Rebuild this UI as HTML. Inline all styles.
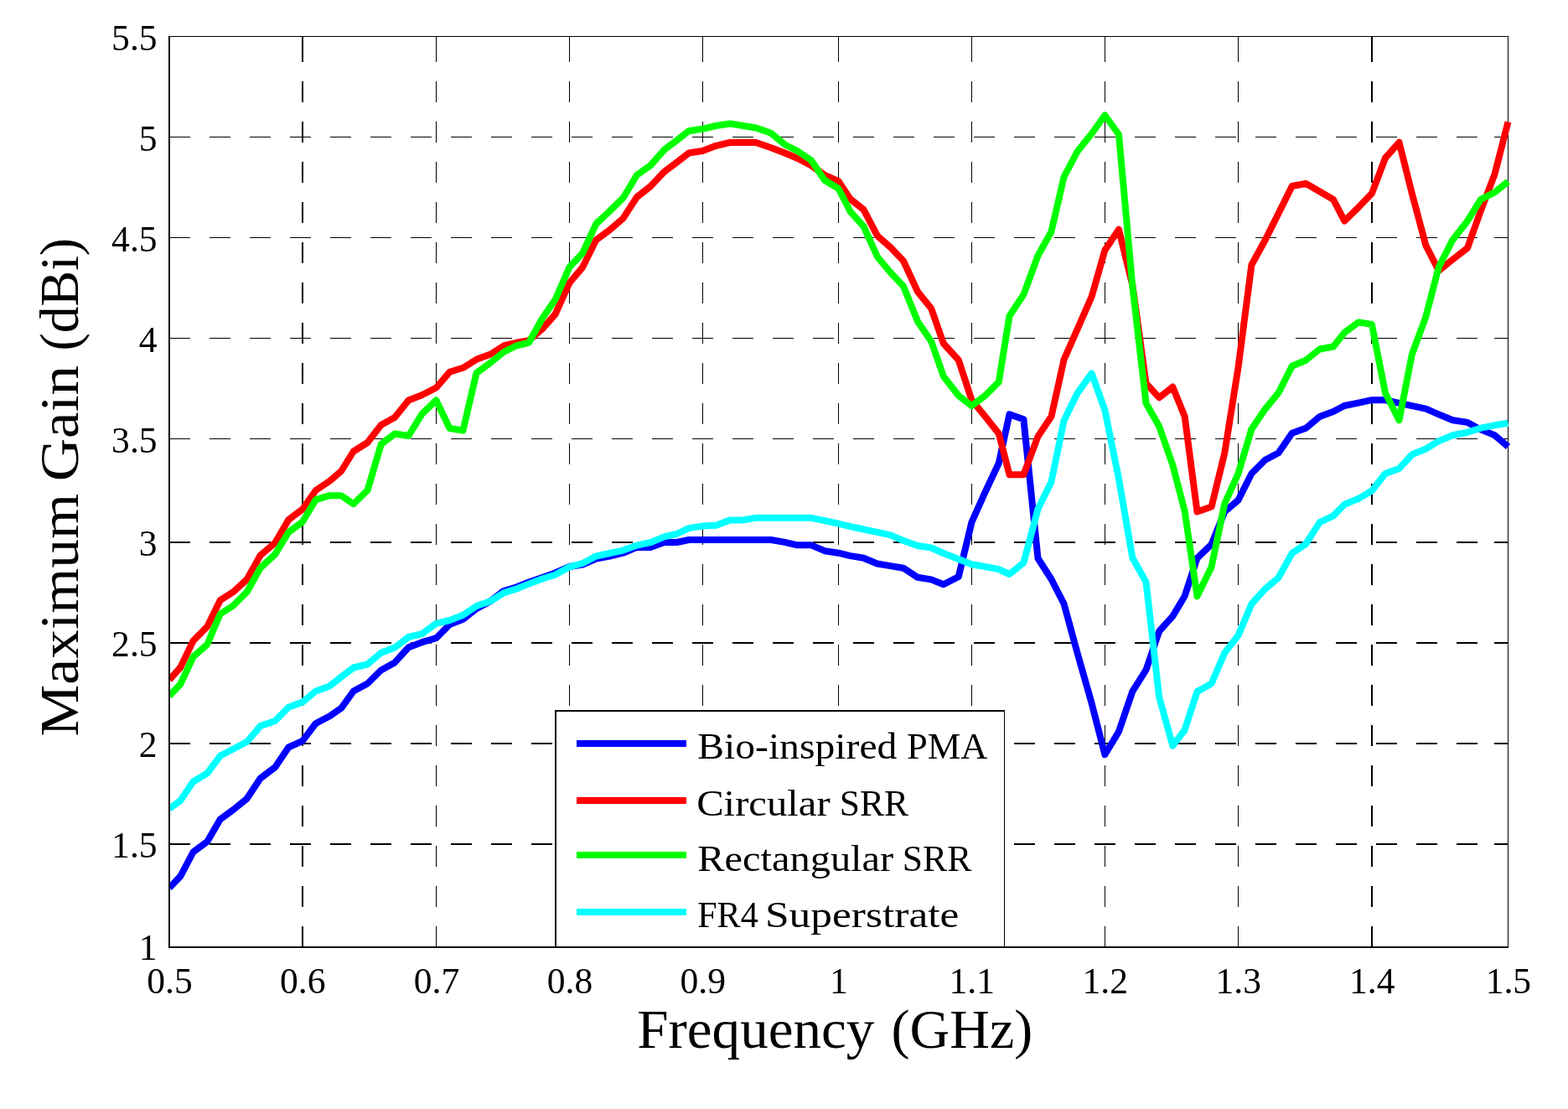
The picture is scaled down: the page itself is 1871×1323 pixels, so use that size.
<!DOCTYPE html>
<html lang="en">
<head>
<meta charset="utf-8">
<title>Maximum Gain vs Frequency</title>
<style>
html,body{margin:0;padding:0;background:#fff;}
body{width:1871px;height:1323px;overflow:hidden;}
svg{display:block;}
text{font-family:"Liberation Serif", serif;fill:#000;}
.k{fill:#000;shape-rendering:crispEdges;}
.g{stroke:#000;fill:none;shape-rendering:crispEdges;}
.c{fill:none;stroke-width:8;stroke-linejoin:round;stroke-linecap:butt;}
.t{font-size:43.6px;}
.lg{font-size:43.8px;}
.al{font-size:65px;}
</style>
</head>
<body>
<svg width="1871" height="1323" viewBox="0 0 1871 1323">
<defs><clipPath id="pa"><rect x="203" y="33" width="1605" height="1108"/></clipPath></defs>
<rect x="0" y="0" width="1871" height="1323" fill="#fff"/>
<g class="g">
<line x1="202" y1="163.5" x2="1800" y2="163.5" stroke-width="1" stroke-dasharray="25 23"/>
<line x1="1783" y1="163.5" x2="1800" y2="163.5" stroke-width="1"/>
<line x1="202" y1="283.5" x2="1800" y2="283.5" stroke-width="1" stroke-dasharray="25 23"/>
<line x1="1783" y1="283.5" x2="1800" y2="283.5" stroke-width="1"/>
<line x1="202" y1="403.5" x2="1800" y2="403.5" stroke-width="1" stroke-dasharray="25 23"/>
<line x1="1783" y1="403.5" x2="1800" y2="403.5" stroke-width="1"/>
<line x1="202" y1="523.5" x2="1800" y2="523.5" stroke-width="1" stroke-dasharray="25 23"/>
<line x1="1783" y1="523.5" x2="1800" y2="523.5" stroke-width="1"/>
<line x1="202" y1="647.0" x2="1800" y2="647.0" stroke-width="2" stroke-dasharray="25 23"/>
<line x1="1783" y1="647.0" x2="1800" y2="647.0" stroke-width="2"/>
<line x1="202" y1="767.0" x2="1800" y2="767.0" stroke-width="2" stroke-dasharray="25 23"/>
<line x1="1783" y1="767.0" x2="1800" y2="767.0" stroke-width="2"/>
<line x1="202" y1="887.0" x2="1800" y2="887.0" stroke-width="2" stroke-dasharray="25 23"/>
<line x1="1783" y1="887.0" x2="1800" y2="887.0" stroke-width="2"/>
<line x1="202" y1="1007.0" x2="1800" y2="1007.0" stroke-width="2" stroke-dasharray="25 23"/>
<line x1="1783" y1="1007.0" x2="1800" y2="1007.0" stroke-width="2"/>
<line x1="361.0" y1="1130" x2="361.0" y2="43" stroke-width="2" stroke-dasharray="25 23"/>
<line x1="361.0" y1="43" x2="361.0" y2="59" stroke-width="2"/>
<line x1="520.5" y1="1130" x2="520.5" y2="43" stroke-width="1" stroke-dasharray="25 23"/>
<line x1="520.5" y1="43" x2="520.5" y2="59" stroke-width="1"/>
<line x1="679.5" y1="1130" x2="679.5" y2="43" stroke-width="1" stroke-dasharray="25 23"/>
<line x1="679.5" y1="43" x2="679.5" y2="59" stroke-width="1"/>
<line x1="838.5" y1="1130" x2="838.5" y2="43" stroke-width="1" stroke-dasharray="25 23"/>
<line x1="838.5" y1="43" x2="838.5" y2="59" stroke-width="1"/>
<line x1="1000.5" y1="1130" x2="1000.5" y2="43" stroke-width="1" stroke-dasharray="25 23"/>
<line x1="1000.5" y1="43" x2="1000.5" y2="59" stroke-width="1"/>
<line x1="1159.5" y1="1130" x2="1159.5" y2="43" stroke-width="1" stroke-dasharray="25 23"/>
<line x1="1159.5" y1="43" x2="1159.5" y2="59" stroke-width="1"/>
<line x1="1318.5" y1="1130" x2="1318.5" y2="43" stroke-width="1" stroke-dasharray="25 23"/>
<line x1="1318.5" y1="43" x2="1318.5" y2="59" stroke-width="1"/>
<line x1="1477.5" y1="1130" x2="1477.5" y2="43" stroke-width="1" stroke-dasharray="25 23"/>
<line x1="1477.5" y1="43" x2="1477.5" y2="59" stroke-width="1"/>
<line x1="1637.0" y1="1130" x2="1637.0" y2="43" stroke-width="2" stroke-dasharray="25 23"/>
<line x1="1637.0" y1="43" x2="1637.0" y2="59" stroke-width="2"/>
</g>
<rect class="k" x="1799" y="43" width="1" height="1088"/>
<g clip-path="url(#pa)">
<path class="c" stroke="#0000ff" d="M202.0 1059.2 L215.3 1045.4 L230.5 1016.5 L247.3 1004.0 L262.7 977.5 L278.3 966.0 L294.6 952.8 L310.7 928.5 L328.3 915.3 L344.3 891.5 L361.0 883.9 L376.8 863.0 L393.5 854.3 L407.2 844.8 L421.8 824.5 L438.5 815.5 L454.7 799.5 L471.0 790.4 L487.5 772.3 L503.5 766.2 L520.5 761.2 L536.5 745.0 L552.5 738.8 L568.5 726.2 L585.5 717.0 L601.0 705.0 L616.0 700.5 L631.0 694.5 L647.0 689.0 L662.5 683.5 L679.4 676.0 L695.2 673.5 L711.3 666.5 L727.3 663.5 L743.5 659.7 L760.0 652.9 L776.0 652.9 L792.5 647.0 L807.5 647.0 L822.0 644.0 L838.3 644.0 L854.6 644.0 L871.0 644.0 L886.6 644.0 L902.0 644.0 L920.0 644.0 L936.5 646.9 L951.3 650.3 L968.0 650.3 L984.0 657.2 L1000.5 659.7 L1014.7 663.1 L1030.5 665.7 L1046.8 672.5 L1062.5 675.1 L1078.0 677.7 L1095.0 688.8 L1111.2 691.4 L1125.8 697.3 L1143.8 688.0 L1159.4 623.2 L1175.5 587.2 L1191.8 552.5 L1204.5 494.2 L1221.4 500.2 L1238.5 666.0 L1254.5 691.0 L1269.5 720.3 L1285.7 779.5 L1302.6 838.9 L1318.4 900.2 L1335.0 872.7 L1351.3 824.9 L1367.5 799.2 L1383.2 753.0 L1399.3 735.1 L1413.6 711.2 L1428.5 665.8 L1445.6 649.3 L1461.3 610.5 L1477.5 596.6 L1493.4 565.0 L1509.6 548.7 L1525.6 540.2 L1541.7 516.8 L1558.3 510.7 L1574.7 497.0 L1591.0 491.0 L1604.3 484.0 L1621.0 480.6 L1636.9 477.2 L1653.0 477.3 L1669.5 480.8 L1684.9 484.2 L1701.3 487.6 L1716.8 494.4 L1733.5 501.3 L1751.0 503.9 L1766.8 512.4 L1783.5 519.2 L1799.5 532.9"/>
<path class="c" stroke="#ff0000" d="M202.0 811.0 L215.3 796.3 L230.5 764.5 L247.3 747.5 L262.7 716.2 L278.3 706.2 L294.6 691.2 L310.7 662.5 L328.3 647.5 L344.3 620.0 L361.0 607.5 L376.8 585.0 L393.5 573.8 L407.2 562.0 L421.8 538.5 L438.5 528.0 L454.7 507.0 L471.0 498.0 L487.5 477.5 L503.5 471.2 L520.5 462.5 L536.5 443.8 L552.5 438.8 L568.5 428.8 L585.5 422.5 L601.0 412.5 L616.0 408.8 L631.0 406.2 L647.0 392.5 L662.5 375.0 L679.4 337.5 L695.2 318.8 L711.3 286.2 L727.3 274.5 L743.5 260.5 L760.0 235.0 L776.0 222.5 L792.5 205.0 L807.5 193.8 L822.0 182.5 L838.3 180.0 L854.6 173.8 L871.0 170.0 L886.6 170.0 L902.0 170.0 L920.0 176.2 L936.5 182.5 L951.3 188.8 L968.0 197.5 L984.0 208.8 L1000.5 216.2 L1014.7 237.5 L1030.5 250.0 L1046.8 281.2 L1062.5 295.0 L1078.0 311.2 L1095.0 348.0 L1111.2 368.0 L1125.8 409.7 L1143.8 429.5 L1159.4 477.1 L1175.5 496.8 L1191.8 517.3 L1204.5 566.3 L1221.4 566.3 L1238.5 520.7 L1254.5 496.8 L1269.5 429.2 L1285.7 392.4 L1302.6 353.9 L1318.4 298.5 L1335.0 273.7 L1351.3 340.0 L1367.5 457.3 L1383.2 474.4 L1399.3 461.6 L1413.6 496.7 L1428.5 610.5 L1445.6 604.5 L1461.3 540.2 L1477.5 438.4 L1493.4 316.0 L1509.6 286.5 L1525.6 254.5 L1541.7 222.0 L1558.3 219.0 L1574.7 228.5 L1591.0 238.0 L1604.3 263.6 L1621.0 247.3 L1636.9 230.8 L1653.0 188.5 L1669.5 169.8 L1684.9 230.9 L1701.3 292.6 L1716.8 323.0 L1733.5 309.5 L1751.0 295.8 L1766.8 251.7 L1783.5 207.8 L1799.5 145.4"/>
<path class="c" stroke="#00ff00" d="M202.0 830.2 L215.3 816.2 L230.5 783.5 L247.3 768.8 L262.7 732.5 L278.3 722.5 L294.6 706.2 L310.7 677.5 L328.3 661.2 L344.3 635.0 L361.0 622.5 L376.8 596.2 L393.5 591.2 L407.2 591.2 L421.8 601.2 L438.5 585.0 L454.7 530.0 L471.0 517.5 L487.5 520.0 L503.5 493.8 L520.5 477.5 L536.5 511.0 L552.5 513.5 L568.5 445.0 L585.5 432.5 L601.0 420.0 L616.0 412.5 L631.0 408.8 L647.0 380.0 L662.5 357.5 L679.4 318.8 L695.2 302.0 L711.3 267.0 L727.3 252.0 L743.5 236.2 L760.0 208.8 L776.0 197.5 L792.5 178.8 L807.5 167.5 L822.0 156.2 L838.3 153.8 L854.6 150.0 L871.0 147.5 L886.6 150.0 L902.0 152.5 L920.0 158.8 L936.5 172.5 L951.3 180.0 L968.0 191.2 L984.0 215.0 L1000.5 225.0 L1014.7 252.5 L1030.5 270.0 L1046.8 306.2 L1062.5 325.0 L1078.0 341.5 L1095.0 383.4 L1111.2 407.2 L1125.8 448.9 L1143.8 472.0 L1159.4 484.1 L1175.5 472.0 L1191.8 455.7 L1204.5 377.0 L1221.4 351.4 L1238.5 305.0 L1254.5 276.2 L1269.5 211.2 L1285.7 180.5 L1302.6 159.5 L1318.4 137.5 L1335.0 160.5 L1351.3 341.0 L1367.5 481.0 L1383.2 508.7 L1399.3 554.7 L1413.6 609.5 L1428.5 711.3 L1445.6 676.2 L1461.3 600.9 L1477.5 565.0 L1493.4 512.0 L1509.6 488.1 L1525.6 468.5 L1541.7 436.8 L1558.3 429.7 L1574.7 416.5 L1591.0 413.5 L1604.3 396.8 L1621.0 384.4 L1636.9 387.0 L1653.0 468.8 L1669.5 501.2 L1684.9 422.6 L1701.3 378.1 L1716.8 318.5 L1733.5 285.9 L1751.0 263.7 L1766.8 238.0 L1783.5 229.5 L1799.5 216.6"/>
<path class="c" stroke="#00ffff" d="M202.0 964.9 L215.3 955.0 L230.5 932.5 L247.3 922.5 L262.7 901.8 L278.3 893.5 L294.6 885.0 L310.7 866.1 L328.3 860.0 L344.3 843.8 L361.0 837.6 L376.8 824.5 L393.5 818.4 L407.2 807.5 L421.8 796.5 L438.5 792.5 L454.7 778.8 L471.0 772.6 L487.5 760.0 L503.5 756.2 L520.5 743.8 L536.5 740.0 L552.5 733.8 L568.5 723.0 L585.5 717.0 L601.0 707.3 L616.0 702.6 L631.0 696.6 L647.0 690.5 L662.5 685.7 L679.4 676.3 L695.2 672.0 L711.3 663.5 L727.3 660.0 L743.5 656.6 L760.0 650.6 L776.0 647.2 L792.5 640.4 L807.5 637.0 L822.0 630.1 L838.3 627.6 L854.6 626.7 L871.0 620.5 L886.6 620.4 L902.0 617.8 L920.0 617.8 L936.5 617.8 L951.3 617.8 L968.0 617.8 L984.0 621.2 L1000.5 624.7 L1014.7 628.1 L1030.5 631.5 L1046.8 634.9 L1062.5 638.3 L1078.0 645.0 L1095.0 651.0 L1111.2 653.5 L1125.8 660.0 L1143.8 667.0 L1159.4 673.2 L1175.5 676.0 L1191.8 679.1 L1204.5 685.0 L1221.4 671.4 L1238.5 607.2 L1254.5 574.7 L1269.5 502.0 L1285.7 468.8 L1302.6 445.4 L1318.4 489.3 L1335.0 571.3 L1351.3 665.4 L1367.5 694.4 L1383.2 831.7 L1399.3 889.6 L1413.6 871.0 L1428.5 824.9 L1445.6 815.4 L1461.3 778.7 L1477.5 758.1 L1493.4 720.5 L1509.6 702.6 L1525.6 689.0 L1541.7 659.9 L1558.3 648.8 L1574.7 623.1 L1591.0 615.4 L1604.3 601.8 L1621.0 594.9 L1636.9 585.5 L1653.0 565.0 L1669.5 559.0 L1684.9 542.3 L1701.3 535.5 L1716.8 526.1 L1733.5 519.2 L1751.0 515.8 L1766.8 510.7 L1783.5 507.3 L1799.5 504.7"/>
</g>
<rect class="k" x="201" y="43" width="2" height="1088"/>
<rect class="k" x="201" y="1129" width="1599" height="2"/>
<rect class="k" x="201" y="43" width="1599" height="1"/>
<rect x="662" y="847" width="537" height="282" fill="#fff"/>
<rect class="k" x="662" y="847" width="537" height="2"/>
<rect class="k" x="662" y="847" width="2" height="282"/>
<rect class="k" x="1198" y="847" width="1" height="282"/>
<rect x="688" y="883" width="131" height="8" fill="#0000ff" shape-rendering="crispEdges"/>
<rect x="688" y="951" width="131" height="8" fill="#ff0000" shape-rendering="crispEdges"/>
<rect x="688" y="1016" width="131" height="8" fill="#00ff00" shape-rendering="crispEdges"/>
<rect x="688" y="1084" width="131" height="8" fill="#00ffff" shape-rendering="crispEdges"/>
<text class="t" x="202.50" y="1184.6" text-anchor="middle">0.5</text>
<text class="t" x="361.25" y="1184.6" text-anchor="middle">0.6</text>
<text class="t" x="521.00" y="1184.6" text-anchor="middle">0.7</text>
<text class="t" x="680.00" y="1184.6" text-anchor="middle">0.8</text>
<text class="t" x="838.75" y="1184.6" text-anchor="middle">0.9</text>
<text class="t" x="1001.00" y="1184.6" text-anchor="middle">1</text>
<text class="t" x="1159.75" y="1184.6" text-anchor="middle">1.1</text>
<text class="t" x="1318.75" y="1184.6" text-anchor="middle">1.2</text>
<text class="t" x="1477.75" y="1184.6" text-anchor="middle">1.3</text>
<text class="t" x="1637.25" y="1184.6" text-anchor="middle">1.4</text>
<text class="t" x="1799.90" y="1184.6" text-anchor="middle">1.5</text>
<text class="t" x="187.6" y="60.30" text-anchor="end">5.5</text>
<text class="t" x="187.6" y="180.30" text-anchor="end">5</text>
<text class="t" x="187.6" y="300.30" text-anchor="end">4.5</text>
<text class="t" x="187.6" y="420.30" text-anchor="end">4</text>
<text class="t" x="187.6" y="540.30" text-anchor="end">3.5</text>
<text class="t" x="187.6" y="663.40" text-anchor="end">3</text>
<text class="t" x="187.6" y="783.40" text-anchor="end">2.5</text>
<text class="t" x="187.6" y="903.30" text-anchor="end">2</text>
<text class="t" x="187.6" y="1023.40" text-anchor="end">1.5</text>
<text class="t" x="187.6" y="1145.20" text-anchor="end">1</text>
<text class="lg" y="905.30"><tspan x="832.18" textLength="238.22" lengthAdjust="spacingAndGlyphs">Bio-inspired</tspan> <tspan x="1081.99" textLength="96.42" lengthAdjust="spacingAndGlyphs">PMA</tspan></text>
<text class="lg" y="972.80"><tspan x="831.17" textLength="159.44" lengthAdjust="spacingAndGlyphs">Circular</tspan> <tspan x="1001.67" textLength="82.33" lengthAdjust="spacingAndGlyphs">SRR</tspan></text>
<text class="lg" y="1038.50"><tspan x="832.19" textLength="234.02" lengthAdjust="spacingAndGlyphs">Rectangular</tspan> <tspan x="1076.86" textLength="82.34" lengthAdjust="spacingAndGlyphs">SRR</tspan></text>
<text class="lg" y="1106.30"><tspan x="832.17" textLength="72.64" lengthAdjust="spacingAndGlyphs">FR4</tspan> <tspan x="912.92" textLength="231.52" lengthAdjust="spacingAndGlyphs">Superstrate</tspan></text>
<text class="al" y="1250.30"><tspan x="760.18" textLength="283.22" lengthAdjust="spacingAndGlyphs">Frequency</tspan> <tspan x="1063.51" textLength="168.78" lengthAdjust="spacingAndGlyphs">(GHz)</tspan></text>
<text class="al" transform="translate(93.40 878.50) rotate(-90)" y="0"><tspan x="0.07" textLength="289.45" lengthAdjust="spacingAndGlyphs">Maximum</tspan> <tspan x="304.19" textLength="138.37" lengthAdjust="spacingAndGlyphs">Gain</tspan> <tspan x="459.97" textLength="134.66" lengthAdjust="spacingAndGlyphs">(dBi)</tspan></text>
</svg>
</body>
</html>
